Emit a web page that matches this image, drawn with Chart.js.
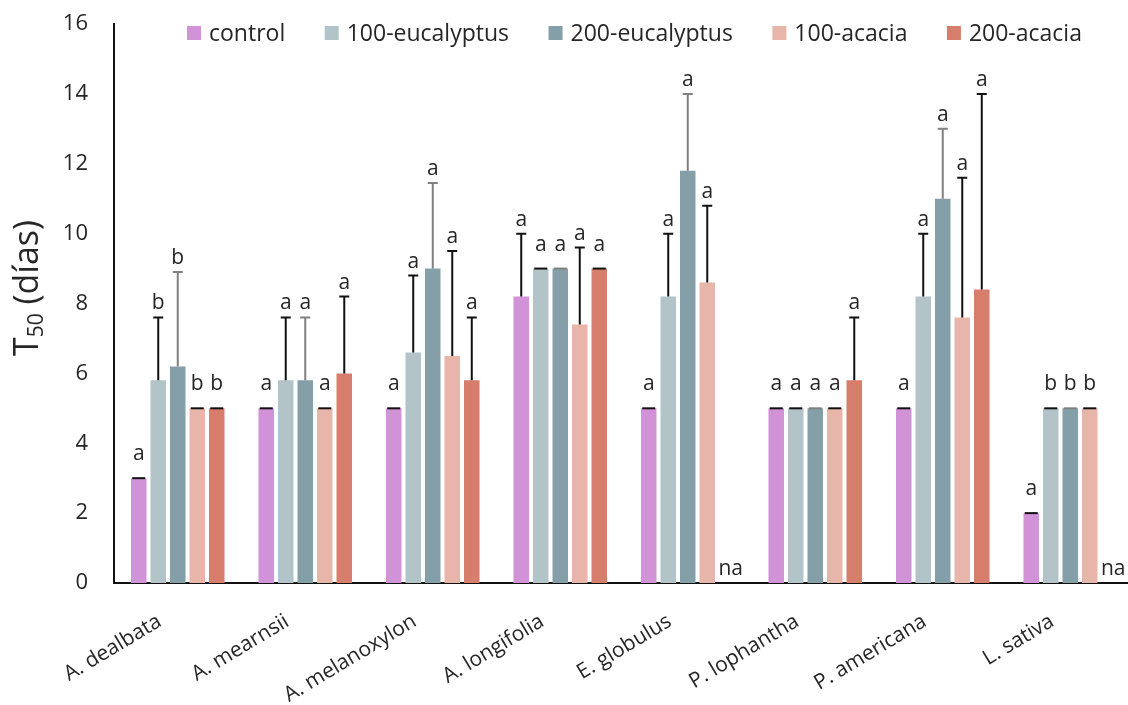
<!DOCTYPE html>
<html><head><meta charset="utf-8">
<script src="https://cdn.jsdelivr.net/npm/chart.js@4.4.1/dist/chart.umd.min.js"></script>
<style>
html,body{margin:0;padding:0;background:#fff;overflow:hidden}
#wrap{width:1128px;height:705px;overflow:hidden;position:relative}
#inner{width:1136px;height:705px;position:absolute;left:0;top:0}
</style>
</head><body>
<div id="wrap"><div id="inner"><canvas id="c"></canvas></div></div>
<script>
// ---- data ----
const categories = ['A. dealbata','A. mearnsii','A. melanoxylon','A. longifolia','E. globulus','P. lophantha','P. americana','L. sativa'];
const seriesNames = ['control','100-eucalyptus','200-eucalyptus','100-acacia','200-acacia'];
const seriesColors = ['#d292d8','#b2c4c8','#859fa8','#e8b5aa','#d67e6b'];
const errorColors = ['#111111','#111111','#808080','#111111','#111111'];

const control      = [3.0, 5.0, 5.0, 8.2, 5.0, 5.0, 5.0, 2.0];
const euc100       = [5.8, 5.8, 6.6, 9.0, 8.2, 5.0, 8.2, 5.0];
const euc200       = [6.2, 5.8, 9.0, 9.0, 11.8, 5.0, 11.0, 5.0];
const aca100       = [5.0, 5.0, 6.5, 7.4, 8.6, 5.0, 7.6, 5.0];
const aca200       = [5.0, 6.0, 5.8, 9.0, null, 5.8, 8.4, null];

const controlErr   = [0, 0, 0, 1.8, 0, 0, 0, 0];
const euc100Err    = [1.8, 1.8, 2.2, 0, 1.8, 0, 1.8, 0];
const euc200Err    = [2.7, 1.8, 2.45, 0, 2.2, 0, 2.0, 0];
const aca100Err    = [0, 0, 3.0, 2.2, 2.2, 0, 4.0, 0];
const aca200Err    = [0, 2.2, 1.8, 0, 0, 1.8, 5.6, 0];

const controlLetters = ['a','a','a','a','a','a','a','a'];
const euc100Letters  = ['b','a','a','a','a','a','a','b'];
const euc200Letters  = ['b','a','a','a','a','a','a','b'];
const aca100Letters  = ['b','a','a','a','a','a','a','b'];
const aca200Letters  = ['b','a','a','a','na','a','a','na'];

const yTicks = [0,2,4,6,8,10,12,14,16];

const seriesValues = [control, euc100, euc200, aca100, aca200];
const seriesErrors = [controlErr, euc100Err, euc200Err, aca100Err, aca200Err];
const seriesLetters = [controlLetters, euc100Letters, euc200Letters, aca100Letters, aca200Letters];

const FONT = "'Open Sans', 'DejaVu Sans', sans-serif";
const TXT = '#262626';

const datasets = seriesNames.map((name, i) => ({
  label: name,
  data: seriesValues[i],
  backgroundColor: seriesColors[i],
  borderWidth: 0,
  errors: seriesErrors[i],
  letters: seriesLetters[i],
  errorColor: errorColors[i]
}));

const errorBarPlugin = {
  id: 'errorBars',
  afterDatasetsDraw(chart) {
    const ctx = chart.ctx;
    const ys = chart.scales.y;
    ctx.save();
    chart.data.datasets.forEach((ds, i) => {
      const meta = chart.getDatasetMeta(i);
      meta.data.forEach((bar, j) => {
        const v = ds.data[j];
        const letter = ds.letters[j];
        const x = bar.x;
        ctx.font = '21px ' + FONT;
        ctx.fillStyle = TXT;
        ctx.textAlign = 'center';
        ctx.textBaseline = 'alphabetic';
        if (v === null || v === undefined) {
          if (letter) ctx.fillText(letter, x + 4, ys.getPixelForValue(0) - 8);
          return;
        }
        const e = ds.errors[j] || 0;
        const yBar = ys.getPixelForValue(v);
        const yTop = ys.getPixelForValue(v + e);
        ctx.strokeStyle = ds.errorColor;
        ctx.lineWidth = 2;
        ctx.beginPath();
        if (e > 0) {
          ctx.moveTo(x, yBar);
          ctx.lineTo(x, yTop);
          ctx.moveTo(x - 5, yTop);
          ctx.lineTo(x + 5, yTop);
        } else {
          ctx.moveTo(x - 6.5, yTop);
          ctx.lineTo(x + 6.5, yTop);
        }
        ctx.stroke();
        if (letter) ctx.fillText(letter, x, yTop - (e > 0 ? 8 : 18));
      });
    });
    ctx.restore();
  }
};

const yTitlePlugin = {
  id: 'yTitle',
  afterDraw(chart) {
    const ctx = chart.ctx;
    ctx.save();
    ctx.translate(38, 288);
    ctx.rotate(-Math.PI / 2);
    ctx.fillStyle = TXT;
    ctx.textBaseline = 'alphabetic';
    ctx.textAlign = 'left';
    const big = '34px ' + FONT, small = '21px ' + FONT;
    ctx.font = big; const wT = ctx.measureText('T').width;
    const rest = ' (días)'; const wR = ctx.measureText(rest).width;
    ctx.font = small; const wS = ctx.measureText('50').width;
    const x0 = -(wT + wS + wR) / 2;
    ctx.font = big; ctx.fillText('T', x0, 0);
    ctx.font = small; ctx.fillText('50', x0 + wT, 5);
    ctx.font = big; ctx.fillText(rest, x0 + wT + wS, 0);
    ctx.restore();
  }
};

const legendPlugin = {
  id: 'customLegend',
  afterDraw(chart) {
    const ctx = chart.ctx;
    ctx.save();
    ctx.font = '23px ' + FONT;
    ctx.textBaseline = 'middle';
    ctx.textAlign = 'left';
    let x = 187;
    const yc = 33;
    chart.data.datasets.forEach((ds) => {
      ctx.fillStyle = ds.backgroundColor;
      ctx.fillRect(x, yc - 7, 14, 14);
      x += 14 + 8;
      ctx.fillStyle = TXT;
      ctx.fillText(ds.label, x, yc + 1);
      x += ctx.measureText(ds.label).width + 39.5;
    });
    ctx.restore();
  }
};

new Chart(document.getElementById('c'), {
  type: 'bar',
  data: { labels: categories, datasets },
  options: {
    responsive: true,
    maintainAspectRatio: false,
    animation: false,
    devicePixelRatio: 1,
    layout: { padding: { top: 24, right: 2, left: 0, bottom: 0 } },
    datasets: { bar: { categoryPercentage: 0.765, barPercentage: 0.795 } },
    plugins: {
      legend: { display: false },
      tooltip: { enabled: false }
    },
    scales: {
      x: {
        grid: { display: false, drawTicks: false },
        border: { display: true, color: '#111', width: 2 },
        ticks: {
          color: TXT, font: { family: FONT, size: 21 },
          minRotation: 31, maxRotation: 31, autoSkip: false, padding: 26, labelOffset: -18
        },
        afterFit(s) { s.height = 122; }
      },
      y: {
        min: 0, max: 16,
        afterBuildTicks(s) { s.ticks = yTicks.map(v => ({ value: v })); },
        grid: { display: false, drawTicks: false },
        border: { display: true, color: '#111', width: 2 },
        ticks: { color: TXT, font: { family: FONT, size: 22 }, padding: 26 },
        afterFit(s) { s.width = 114; s.paddingTop = 0; s.paddingBottom = 0; }
      }
    }
  },
  plugins: [errorBarPlugin, yTitlePlugin, legendPlugin]
});
</script>
</body></html>
